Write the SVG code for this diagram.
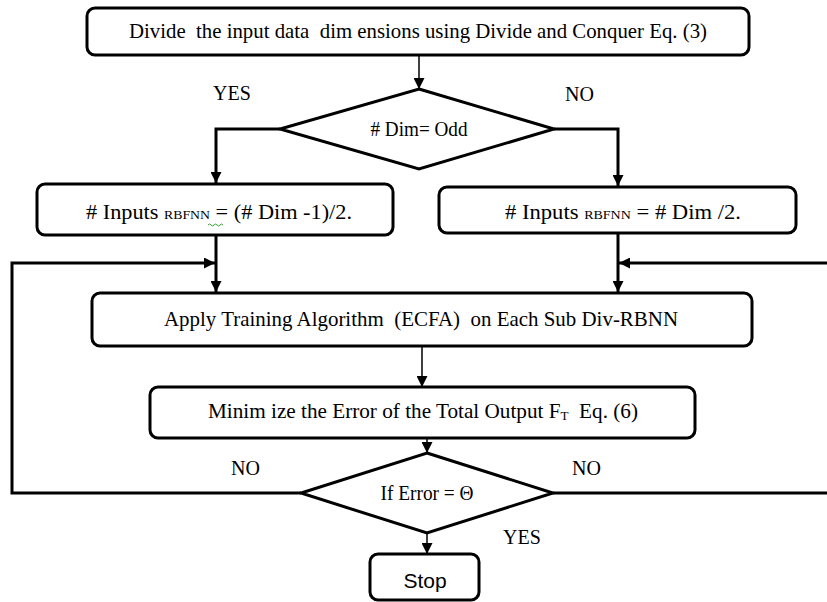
<svg xmlns="http://www.w3.org/2000/svg" width="827" height="602" viewBox="0 0 827 602">
<defs>
<style>
.box{fill:#fff;stroke:#000;stroke-width:3}
.dia{fill:#fff;stroke:#000;stroke-width:3}
.t{font-family:"Liberation Serif","Times New Roman",serif;font-size:21px;fill:#000;white-space:pre}
.lbl{font-family:"Liberation Serif","Times New Roman",serif;font-size:20px;fill:#000}
.s{font-family:"Liberation Sans",Arial,sans-serif;font-size:21px;fill:#000}
.thick{fill:none;stroke:#000;stroke-width:3}
.thin{fill:none;stroke:#000;stroke-width:1.5}
</style>
<marker id="ah" viewBox="0 0 10 10" refX="10" refY="5" markerWidth="11" markerHeight="11" markerUnits="userSpaceOnUse" orient="auto">
<path d="M0,0 L10,5 L0,10 z" fill="#000"/>
</marker>
</defs>
<g id="connectors">
<path class="thin" d="M419,55 V89" marker-end="url(#ah)"/>
<path class="thick" d="M280,129 H216 V183" marker-end="url(#ah)"/>
<path class="thick" d="M554,129 H618 V186" marker-end="url(#ah)"/>
<path class="thick" d="M216,235 V292" marker-end="url(#ah)"/>
<path class="thick" d="M618,234 V292" marker-end="url(#ah)"/>
<path class="thin" d="M422,346 V387" marker-end="url(#ah)"/>
<path class="thin" d="M427,438 V453" marker-end="url(#ah)"/>
<path class="thin" d="M427,533 V554" marker-end="url(#ah)"/>
<path class="thick" d="M301,493 H12 V263 H215" marker-end="url(#ah)"/>
<path class="thick" d="M553,493 H830 V263 H619" marker-end="url(#ah)"/>
</g>
<g id="n_divide">
<rect class="box" x="87" y="8" width="662" height="47" rx="8"/>
<text class="t" x="418" y="38" text-anchor="middle" textLength="578" lengthAdjust="spacingAndGlyphs">Divide  the input data  dim ensions using Divide and Conquer Eq. (3)</text>
</g>
<g id="n_odd">
<polygon class="dia" points="419,89 554,129 419,169 280,129"/>
<text class="t" x="419" y="136" text-anchor="middle" textLength="97" lengthAdjust="spacingAndGlyphs"># Dim= Odd</text>
</g>
<text class="lbl" x="213" y="100">YES</text>
<text class="lbl" x="565" y="101">NO</text>
<g id="n_inputs_odd">
<rect class="box" x="37" y="184" width="356" height="51" rx="8"/>
<text class="t" x="86" y="219" textLength="266" lengthAdjust="spacingAndGlyphs"># Inputs <tspan font-size="13">RBFNN</tspan> = (# Dim -1)/2.</text>
<path d="M208,225 q1.5,-2 3,0 t3,0 t3,0 t3,0 t3,0" fill="none" stroke="#3a9a3a" stroke-width="1"/>
</g>
<g id="n_inputs_even">
<rect class="box" x="439" y="187" width="357" height="46" rx="8"/>
<text class="t" x="505" y="219" textLength="236" lengthAdjust="spacingAndGlyphs"># Inputs <tspan font-size="13">RBFNN</tspan> = # Dim /2.</text>
</g>
<g id="n_apply">
<rect class="box" x="92" y="293" width="660" height="53" rx="8"/>
<text class="t" x="164" y="326" textLength="514" lengthAdjust="spacingAndGlyphs">Apply Training Algorithm  (ECFA)  on Each Sub Div-RBNN</text>
</g>
<g id="n_minimize">
<rect class="box" x="150" y="387" width="545" height="51" rx="8"/>
<text class="t" x="208" y="418" textLength="430" lengthAdjust="spacingAndGlyphs">Minim ize the Error of the Total Output F<tspan font-size="13" dy="2">T</tspan><tspan dy="-2">  Eq. (6)</tspan></text>
</g>
<g id="n_error">
<polygon class="dia" points="427,453 553,493 427,533 301,493"/>
<text class="t" x="427" y="500" text-anchor="middle" textLength="93" lengthAdjust="spacingAndGlyphs">If Error = Θ</text>
</g>
<text class="lbl" x="231" y="475">NO</text>
<text class="lbl" x="572" y="475">NO</text>
<text class="lbl" x="503" y="544">YES</text>
<g id="n_stop">
<rect class="box" x="370" y="554" width="109" height="46" rx="8"/>
<text class="s" x="425" y="588" text-anchor="middle">Stop</text>
</g>
</svg>
